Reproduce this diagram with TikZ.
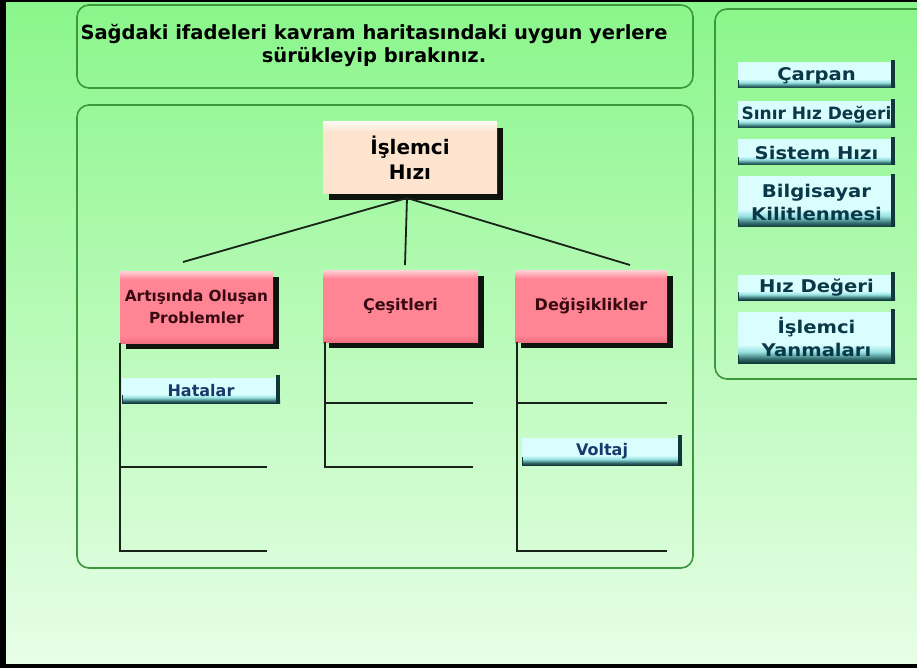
\documentclass[tikz,border=0pt]{standalone}
\usepackage{fontspec}
\setmainfont{DejaVu Sans}
\newfontfamily\panelfont[FakeStretch=1.12]{DejaVu Sans}
\usetikzlibrary{shadows,calc}

\definecolor{bgtop}{RGB}{138,246,138}
\definecolor{bgbot}{RGB}{232,254,232}
\definecolor{frame}{RGB}{62,150,62}
\definecolor{pinkA}{RGB}{255,132,148}
\definecolor{pinkC}{RGB}{238,112,130}
\definecolor{pinkB}{RGB}{255,210,216}
\definecolor{peachA}{RGB}{252,228,206}
\definecolor{peachB}{RGB}{255,248,240}
\definecolor{btnlight}{RGB}{218,254,254}
\definecolor{btnmid}{RGB}{150,225,225}
\definecolor{btnteal}{RGB}{48,106,106}
\definecolor{btndark}{RGB}{16,56,56}
\definecolor{btntext}{RGB}{10,56,72}
\definecolor{itemtext}{RGB}{22,58,108}
\definecolor{concepttext}{RGB}{56,10,18}
\definecolor{wire}{RGB}{24,36,24}

% the path box maps to 25bp..75bp of each shading
\pgfdeclareverticalshading{buttonshade}{100bp}{color(0bp)=(btndark); color(25bp)=(btndark); color(29bp)=(btnteal); color(36bp)=(btnmid); color(43bp)=(btnlight); color(100bp)=(btnlight)}
\pgfdeclareverticalshading{pinkshade}{100bp}{color(0bp)=(pinkC); color(25bp)=(pinkC); color(30bp)=(pinkA); color(69bp)=(pinkA); color(75bp)=(pinkB); color(100bp)=(pinkB)}
\pgfdeclareverticalshading{peachshade}{100bp}{color(0bp)=(peachA); color(25bp)=(peachA); color(68bp)=(peachA); color(75bp)=(peachB); color(100bp)=(peachB)}

\tikzset{
  panel/.style={draw=frame, line width=1.6pt, rounded corners=12pt},
  boxshadow/.style={drop shadow={shadow xshift=6pt, shadow yshift=-6pt, fill=black, opacity=0.92}},
  rootbox/.style={shading=peachshade, boxshadow, minimum width=174pt, minimum height=72pt,
    inner sep=0pt, align=center, text=black, font=\bfseries\fontsize{20}{25}\selectfont},
  concept/.style={shading=pinkshade, boxshadow, minimum width=153pt, minimum height=72pt,
    inner sep=0pt, align=center, text=concepttext, font=\bfseries\fontsize{16}{22}\selectfont},
  item/.style={shading=buttonshade, minimum width=157pt, minimum height=25pt, inner sep=0pt,
    align=center, text=btntext, font=\panelfont\bfseries\fontsize{17.5}{23}\selectfont},
  placed/.style={item, text=itemtext, minimum width=158pt, font=\bfseries\fontsize{16}{23}\selectfont},
  wireline/.style={draw=wire, line width=1.8pt},
}

\begin{document}
\begin{tikzpicture}[x=1pt, y=-1pt]
  \useasboundingbox (0,0) rectangle (917,668);

  % backdrop and window edge
  \shade[top color=bgtop, bottom color=bgbot] (0,0) rectangle (917,668);
  \fill[black] (0,0) rectangle (917,2.5);
  \fill[black] (0,0) rectangle (6,668);
  \fill[black] (0,664) rectangle (917,668);

  % panels
  \draw[panel] (77,5) rectangle (693,88);
  \draw[panel] (77,105) rectangle (693,568);
  \draw[panel] (935,9) -- (715,9) -- (715,379) -- (935,379);

  % instruction
  \node[font=\bfseries\fontsize{19.5}{23}\selectfont, align=center] (title) at (374,45)
    {Sağdaki ifadeleri kavram haritasındaki uygun yerlere\\sürükleyip bırakınız.};

  % concept map
  \node[rootbox] (root) at (410,158) {İşlemci\\Hızı};
  \node[concept, font=\bfseries\fontsize{15.3}{22}\selectfont] (c1) at (196.5,307) {Artışında Oluşan\\Problemler};
  \node[concept, minimum width=155pt] (c2) at (400.5,306) {Çeşitleri};
  \node[concept, minimum width=152pt] (c3) at (591,306) {Değişiklikler};

  \coordinate (hub) at (407,198);
  \coordinate (e1) at (183,262);
  \coordinate (e2) at (405,265);
  \coordinate (e3) at (630,265);
  \draw[wireline] (hub) -- (e1);
  \draw[wireline] (hub) -- (e2);
  \draw[wireline] (hub) -- (e3);

  % answer slots
  \draw[wireline] (c1.south west) |- (267,551);
  \draw[wireline] (120,467) -- (267,467);
  \draw[wireline] ($(c2.south west)+(2,0)$) |- (473,467);
  \draw[wireline] (325,403) -- (473,403);
  \draw[wireline] ($(c3.south west)+(2,0)$) |- (667,551);
  \draw[wireline] (517,403) -- (667,403);

  % terms already dropped
  \node[placed] (p1) at (201,390.5) {Hatalar};
  \node[placed, minimum width=160pt, minimum height=27pt] (p2) at (602,451.5) {Voltaj};

  % terms to drag
  \node[item] (t1) at (816.5,75.5) {Çarpan};
  \node[item, minimum height=26pt, font=\bfseries\fontsize{17}{23}\selectfont] (t2) at (816.5,115) {Sınır Hız Değeri};
  \node[item] (t3) at (816.5,152.5) {Sistem Hızı};
  \node[item, minimum height=50pt] (t4) at (816.5,202) {Bilgisayar\\Kilitlenmesi};
  \node[item] (t5) at (816.5,287.5) {Hız Değeri};
  \node[item, minimum height=51pt] (t6) at (816.5,337.5) {İşlemci\\Yanmaları};

  % bevelled edges of the draggable terms
  \foreach \n in {p1,p2,t1,t2,t3,t4,t5,t6} {
    \fill[btndark] ($(\n.north east)+(-4,-3)$) rectangle (\n.south east);
    \draw[btndark, line width=1.2pt] ($(\n.south west)+(0.6,-8)$) -- ($(\n.south west)+(0.6,0)$);
  }
\end{tikzpicture}
\end{document}
